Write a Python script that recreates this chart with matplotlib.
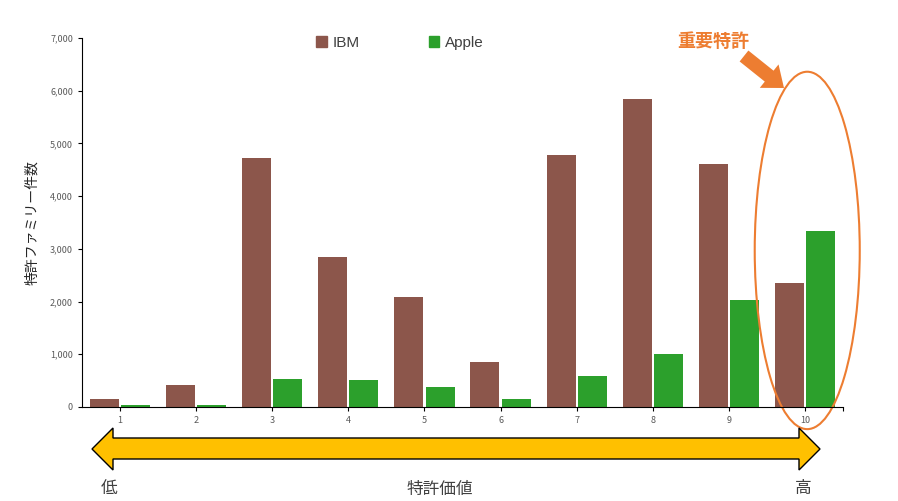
import numpy as np
import matplotlib.pyplot as plt
from matplotlib.patches import Patch, Ellipse, Polygon
from matplotlib.ticker import FuncFormatter

plt.rcParams['font.family'] = ['Noto Sans CJK JP', 'DejaVu Sans']

categories = [1, 2, 3, 4, 5, 6, 7, 8, 9, 10]
ibm = [150, 420, 4720, 2840, 2090, 850, 4780, 5850, 4610, 2350]
apple = [40, 40, 530, 510, 380, 150, 590, 1010, 2030, 3340]

W, H = 898, 501
ORANGE = '#ED7D31'


def px(x, y):
    # picture pixels (top-left origin) -> figure fraction
    return (x / W, 1 - y / H)


def block_arrow(start, end, shaft=7, head=15, head_len=19):
    s = np.array(start, float)
    e = np.array(end, float)
    u = (e - s) / np.linalg.norm(e - s)
    n = np.array([-u[1], u[0]])
    b = e - u * head_len
    pts = [s + n * shaft, b + n * shaft, b + n * head, e,
           b - n * head, b - n * shaft, s - n * shaft]
    return [px(*p) for p in pts]


fig = plt.figure(figsize=(W / 100, H / 100), dpi=100)
ax = fig.add_axes([82 / W, 1 - 407 / H, 761 / W, 369 / H])

x = np.array(categories)
ax.bar(x - 0.205, ibm, width=0.38, color='#8c564b', label='IBM')
ax.bar(x + 0.205, apple, width=0.38, color='#2ca02c', label='Apple')

ax.set_xlim(0.5, 10.5)
ax.set_ylim(0, 7000)
ax.set_xticks(categories)
ax.set_xticks([10.5], minor=True)
ax.set_yticks(range(0, 7001, 1000))
ax.yaxis.set_major_formatter(FuncFormatter(lambda v, p: f'{int(v):,}'))
ax.tick_params(axis='both', labelsize=6.5, labelcolor='#595959', length=3, width=0.8)
ax.tick_params(axis='x', which='minor', length=3, width=0.8)
ax.spines['top'].set_visible(False)
ax.spines['right'].set_visible(False)
ax.set_ylabel('特許ファミリー件数', fontsize=10, color='#262626', labelpad=8)

handles = [Patch(color='#8c564b', label='IBM'), Patch(color='#2ca02c', label='Apple')]
leg = fig.legend(handles=handles, loc='center', bbox_to_anchor=px(400, 43), ncol=2,
                 frameon=False, handlelength=0.7, handleheight=0.7,
                 handletextpad=0.4, columnspacing=4.5,
                 prop={'family': ['Liberation Sans', 'DejaVu Sans'], 'size': 11})
for t in leg.get_texts():
    t.set_color('#404040')

# orange ellipse around category 10
ell = Ellipse((10.03, 2970), 1.38, 6780, fill=False, edgecolor=ORANGE, lw=1.5, clip_on=False)
ax.add_patch(ell)

fig.text(*px(713, 41), '重要特許', color=ORANGE, fontsize=13, fontweight='bold',
         ha='center', va='center')
fig.patches.append(Polygon(block_arrow((744, 56), (784, 88)), closed=True,
                           transform=fig.transFigure, facecolor=ORANGE, edgecolor='none'))

# double-headed value arrow
pts = [(92, 449), (113, 428), (113, 438), (799, 438), (799, 428), (820, 449),
       (799, 470), (799, 459), (113, 459), (113, 470)]
arrow = Polygon([px(a, b) for a, b in pts], closed=True, transform=fig.transFigure,
                facecolor='#FFC000', edgecolor='black', lw=1)
fig.patches.append(arrow)

fig.text(*px(109, 489), '低', fontsize=12, color='#404040', ha='center', va='center')
fig.text(*px(440, 489), '特許価値', fontsize=12, color='#404040', ha='center', va='center')
fig.text(*px(803, 489), '高', fontsize=12, color='#404040', ha='center', va='center')

fig.savefig('out.png', dpi=100)
